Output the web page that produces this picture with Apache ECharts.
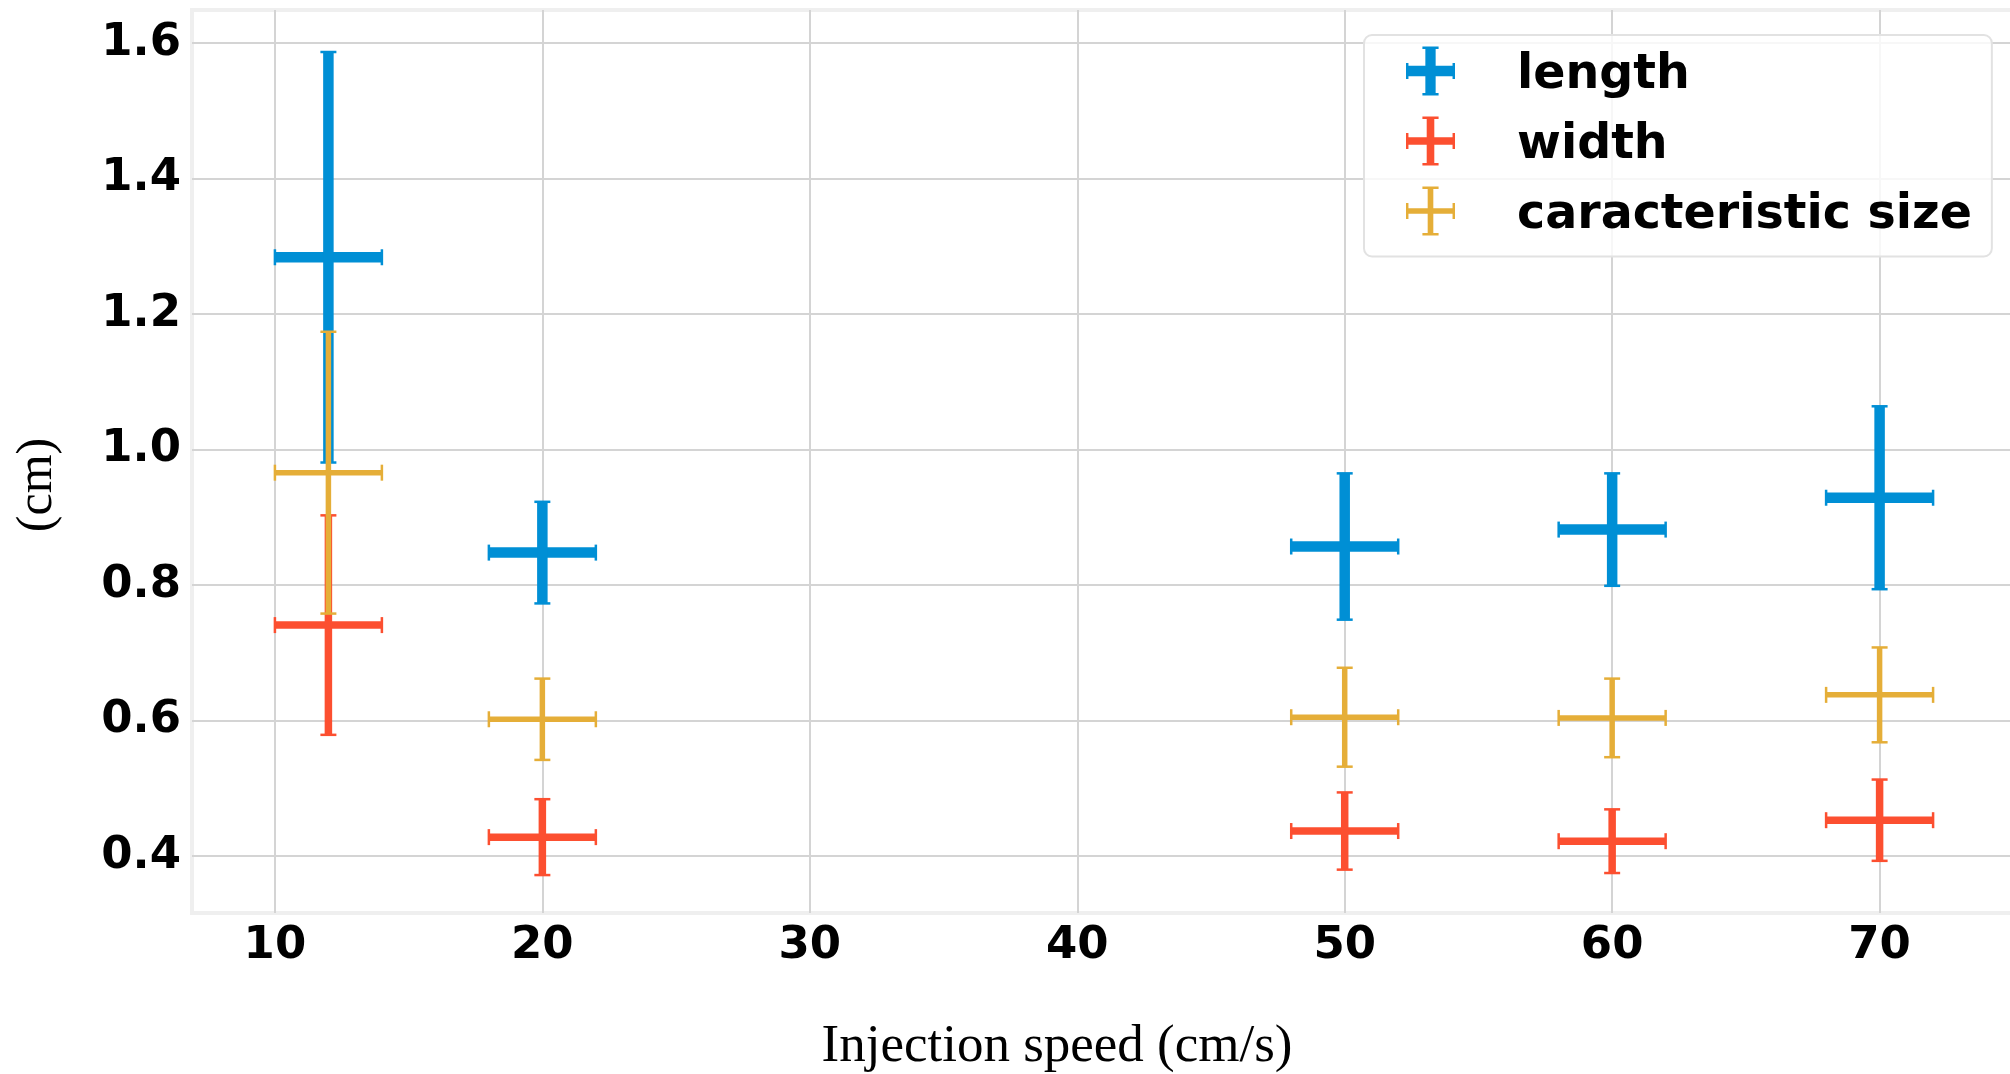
<!DOCTYPE html>
<html>
<head>
<meta charset="utf-8">
<script src="https://cdn.jsdelivr.net/npm/echarts@6/dist/echarts.min.js"></script>
<style>
html,body{margin:0;padding:0;background:#fff;}
#chart{width:2010px;height:1074px;}
</style>
</head>
<body>
<div id="chart"></div>
<script>
// ---- data ----
const seriesNames = ['length', 'width', 'caracteristic size'];
const speeds = [12, 20, 50, 60, 70];
const speedErr = [2, 2, 2, 2, 2];
const lengthMean = [1.284, 0.848, 0.857, 0.882, 0.929];
const lengthErr = [0.303, 0.075, 0.108, 0.083, 0.135];
const widthMean = [0.741, 0.428, 0.437, 0.422, 0.453];
const widthErr = [0.162, 0.056, 0.057, 0.047, 0.060];
const sizeMean = [0.966, 0.602, 0.605, 0.604, 0.638];
const sizeErr = [0.208, 0.060, 0.073, 0.058, 0.070];
const xTitle = 'Injection speed (cm/s)';
const yTitle = '(cm)';

const colors = ['#008fd5', '#fc4f30', '#e5ae38'];
const lineWidths = [10.5, 7.5, 5.5];

function buildData(means, errs) {
  return speeds.map((x, i) => [x, means[i], speedErr[i], errs[i]]);
}

function makeRender(color, lw) {
  const capLen = 16, capW = 2.5;
  return function (params, api) {
    const x = api.value(0), y = api.value(1), xe = api.value(2), ye = api.value(3);
    const l = api.coord([x - xe, y]), r = api.coord([x + xe, y]);
    const t = api.coord([x, y + ye]), b = api.coord([x, y - ye]);
    const h = capLen / 2;
    const st = { stroke: color, lineWidth: lw, lineCap: 'butt' };
    const cs = { stroke: color, lineWidth: capW, lineCap: 'butt' };
    return {
      type: 'group',
      children: [
        { type: 'line', shape: { x1: l[0], y1: l[1], x2: r[0], y2: r[1] }, style: st },
        { type: 'line', shape: { x1: t[0], y1: t[1], x2: b[0], y2: b[1] }, style: st },
        { type: 'line', shape: { x1: l[0], y1: l[1] - h, x2: l[0], y2: l[1] + h }, style: cs },
        { type: 'line', shape: { x1: r[0], y1: r[1] - h, x2: r[0], y2: r[1] + h }, style: cs },
        { type: 'line', shape: { x1: t[0] - h, y1: t[1], x2: t[0] + h, y2: t[1] }, style: cs },
        { type: 'line', shape: { x1: b[0] - h, y1: b[1], x2: b[0] + h, y2: b[1] }, style: cs }
      ]
    };
  };
}

function crossPath(th) {
  const a = 50 - th / 2, b = 50 + th / 2, c1 = 33.5, c2 = 66.5;
  return 'path://M' + a + ',0H' + b + 'V100H' + a + 'Z' +
    'M0,' + a + 'H100V' + b + 'H0Z' +
    'M' + c1 + ',0H' + c2 + 'V5H' + c1 + 'Z' +
    'M' + c1 + ',95H' + c2 + 'V100H' + c1 + 'Z' +
    'M0,' + c1 + 'H5V' + c2 + 'H0Z' +
    'M95,' + c1 + 'H100V' + c2 + 'H95Z';
}

const allMeans = [lengthMean, widthMean, sizeMean];
const allErrs = [lengthErr, widthErr, sizeErr];
const iconThick = [21, 15.5, 11.5];

const chart = echarts.init(document.getElementById('chart'), null, { renderer: 'canvas' });

const tickFont = { fontFamily: 'DejaVu Sans', fontWeight: 'bold', fontSize: 45, color: '#000' };

chart.setOption({
  animation: false,
  backgroundColor: '#ffffff',
  grid: {
    left: 192, top: 10, width: 1824, height: 903,
    outerBoundsMode: 'none',
    show: true, borderColor: '#efefef', borderWidth: 4, backgroundColor: '#ffffff',
    containLabel: false
  },
  xAxis: {
    type: 'value', min: 6.9, max: 75.1, splitNumber: 6,
    axisLine: { show: false }, axisTick: { show: false },
    axisLabel: Object.assign({ margin: 11, showMinLabel: false, showMaxLabel: false }, tickFont),
    splitLine: { show: true, showMinLine: false, showMaxLine: false, lineStyle: { color: '#d4d4d4', width: 2 } }
  },
  yAxis: {
    type: 'value', min: 0.316, max: 1.649, splitNumber: 6,
    axisLine: { show: false }, axisTick: { show: false },
    axisLabel: Object.assign({ margin: 11, showMinLabel: false, showMaxLabel: false,
      formatter: v => v.toFixed(1) }, tickFont),
    splitLine: { show: true, showMinLine: false, showMaxLine: false, lineStyle: { color: '#d4d4d4', width: 2 } }
  },
  legend: {
    orient: 'vertical', left: 1364, top: 35,
    padding: [11.5, 20, 17, 42],
    itemWidth: 49, itemHeight: 49, itemGap: 17,
    backgroundColor: 'rgba(255,255,255,0.8)',
    borderColor: '#e2e2e2', borderWidth: 2, borderRadius: 8,
    formatter: '{t|{name}}',
    textStyle: {
      fontFamily: 'DejaVu Sans', fontWeight: 'bold', fontSize: 47.5, color: '#000',
      rich: { t: { fontFamily: 'DejaVu Sans', fontWeight: 'bold', fontSize: 47.5, color: '#000', padding: [9, 0, 0, 57] } }
    },
    data: seriesNames.map((n, i) => ({ name: n, icon: crossPath(iconThick[i]) }))
  },
  graphic: [
    { type: 'text', x: 1057, y: 1047,
      style: { text: xTitle, x: 0, y: 0, align: 'center', verticalAlign: 'middle', font: '53px "Liberation Serif"', fill: '#000' } },
    { type: 'text', x: 38, y: 485, rotation: Math.PI / 2,
      style: { text: yTitle, x: 0, y: 0, align: 'center', verticalAlign: 'middle', font: '50px "Liberation Serif"', fill: '#000' } }
  ],
  series: seriesNames.map((n, i) => ({
    name: n,
    type: 'custom',
    renderItem: makeRender(colors[i], lineWidths[i]),
    itemStyle: { color: colors[i] },
    encode: { x: 0, y: 1 },
    clip: false,
    z: 2 + i,
    data: buildData(allMeans[i], allErrs[i])
  }))
});
</script>
</body>
</html>
